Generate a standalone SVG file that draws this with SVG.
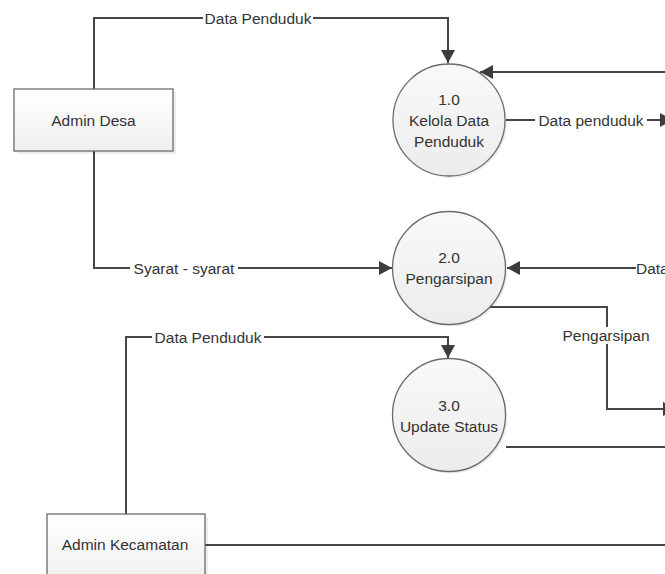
<svg xmlns="http://www.w3.org/2000/svg" width="665" height="574" viewBox="0 0 665 574">
<defs>
<linearGradient id="boxg" x1="0" y1="0" x2="0" y2="1"><stop offset="0" stop-color="#ffffff"/><stop offset="1" stop-color="#efefef"/></linearGradient>
<linearGradient id="circg" x1="0" y1="0" x2="0" y2="1"><stop offset="0" stop-color="#f9f9f9"/><stop offset="1" stop-color="#ececec"/></linearGradient>
<marker id="arr" markerUnits="userSpaceOnUse" markerWidth="14" markerHeight="14" refX="13" refY="7" orient="auto"><path d="M0,0 L13,7 L0,14 Z" fill="#3c3c3c"/></marker>
</defs>
<style>
.c{fill:none;stroke:#454545;stroke-width:2}
.t{font-family:"Liberation Sans",Arial,sans-serif;font-size:15.5px;fill:#333}
.m{text-anchor:middle}
.bg{fill:#fff}
.box{fill:url(#boxg);stroke:#6b6b6b;stroke-width:1.3}
.sh{fill:#000;opacity:0.07}
.pr{fill:url(#circg);stroke:#6b6b6b;stroke-width:1.3}
</style>
<rect width="665" height="574" fill="#fff"/>
<g id="connectors">
<path class="c" d="M94,89 V18 H448 V63" marker-end="url(#arr)"/>
<path class="c" d="M670,72 H480" marker-end="url(#arr)"/>
<path class="c" d="M506,120 H673" marker-end="url(#arr)"/>
<path class="c" d="M94,151 V268 H392" marker-end="url(#arr)"/>
<path class="c" d="M636,268 H507" marker-end="url(#arr)"/>
<path class="c" d="M488,307 H607 V409 H676" marker-end="url(#arr)"/>
<path class="c" d="M126,514 V337 H448 V358" marker-end="url(#arr)"/>
<path class="c" d="M506,447 H670"/>
<path class="c" d="M205,545 H670"/>
<rect class="bg" x="203" y="10" width="110" height="17"/>
<text class="t m" x="258" y="23.5">Data Penduduk</text>
<rect class="bg" x="535" y="112" width="112" height="17"/>
<text class="t m" x="591" y="125.5">Data penduduk</text>
<rect class="bg" x="130" y="260" width="108" height="17"/>
<text class="t m" x="184" y="273.5">Syarat - syarat</text>
<rect class="bg" x="636" y="260" width="30" height="17"/>
<text class="t" x="636" y="273.5">Data</text>
<rect class="bg" x="562" y="327" width="89" height="17"/>
<text class="t m" x="606" y="340.5">Pengarsipan</text>
<rect class="bg" x="152" y="329" width="112" height="17"/>
<text class="t m" x="208" y="342.5">Data Penduduk</text>
</g>
<g id="admin-desa">
<rect class="sh" x="17" y="92" width="159" height="62"/>
<rect class="box" x="14" y="89" width="159" height="62"/>
<text class="t m" x="93.5" y="125.5">Admin Desa</text>
</g>
<g id="admin-kecamatan">
<rect class="sh" x="50" y="517" width="158" height="70"/>
<rect class="box" x="47" y="514" width="158" height="70"/>
<text class="t m" x="125" y="550">Admin Kecamatan</text>
</g>
<g id="p1">
<circle class="sh" cx="451" cy="122" r="56"/>
<circle class="pr" cx="449" cy="120" r="56"/>
<text class="t m" x="449" y="105">1.0</text>
<text class="t m" x="449" y="126">Kelola Data</text>
<text class="t m" x="449" y="147">Penduduk</text>
</g>
<g id="p2">
<circle class="sh" cx="451" cy="270" r="56.5"/>
<circle class="pr" cx="449" cy="268" r="56.5"/>
<text class="t m" x="449" y="263">2.0</text>
<text class="t m" x="449" y="284">Pengarsipan</text>
</g>
<g id="p3">
<circle class="sh" cx="451" cy="417" r="56.5"/>
<circle class="pr" cx="449" cy="415" r="56.5"/>
<text class="t m" x="449" y="411">3.0</text>
<text class="t m" x="449" y="432">Update Status</text>
</g>
</svg>
